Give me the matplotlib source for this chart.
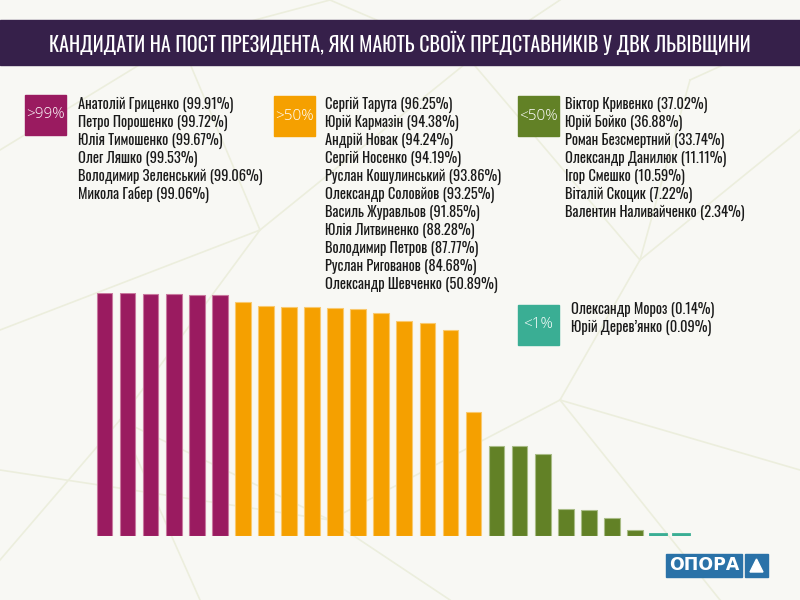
import matplotlib.pyplot as plt
from matplotlib import font_manager as fm
from matplotlib.patches import Rectangle, Polygon
from matplotlib.lines import Line2D

# data
names_99 = ['Анатолій Гриценко', 'Петро Порошенко', 'Юлія Тимошенко', 'Олег Ляшко',
            'Володимир Зеленський', 'Микола Габер']
vals_99 = [99.91, 99.72, 99.67, 99.53, 99.06, 99.06]

names_50 = ['Сергій Тарута', 'Юрій Кармазін', 'Андрій Новак', 'Сергій Носенко',
            'Руслан Кошулинський', 'Олександр Соловйов', 'Василь Журавльов',
            'Юлія Литвиненко', 'Володимир Петров', 'Руслан Ригованов', 'Олександр Шевченко']
vals_50 = [96.25, 94.38, 94.24, 94.19, 93.86, 93.25, 91.85, 88.28, 87.77, 84.68, 50.89]

names_lt50 = ['Віктор Кривенко', 'Юрій Бойко', 'Роман Безсмертний', 'Олександр Данилюк',
              'Ігор Смешко', 'Віталій Скоцик', 'Валентин Наливайченко']
vals_lt50 = [37.02, 36.88, 33.74, 11.11, 10.59, 7.22, 2.34]

names_lt1 = ['Олександр Мороз', 'Юрій Дерев’янко']
vals_lt1 = [0.14, 0.09]

group_labels = ['>99%', '>50%', '<50%', '<1%']
title = 'КАНДИДАТИ НА ПОСТ ПРЕЗИДЕНТА, ЯКІ МАЮТЬ СВОЇХ ПРЕДСТАВНИКІВ У ДВК ЛЬВІВЩИНИ'

purple = '#9A1B60'
orange = '#F5A000'
green = '#628126'
teal = '#3AAE94'
band = '#36204A'
bg = '#F8F8F4'


def pick(cands):
    for c in cands:
        try:
            fm.findfont(fm.FontProperties(family=c), fallback_to_default=False)
            return [c, 'DejaVu Sans']
        except Exception:
            pass
    return ['DejaVu Sans']


narrow = pick(['Oswald', 'Roboto Condensed', 'Barlow Condensed', 'Asap Condensed'])
light = pick(['Open Sans', 'Noto Sans', 'Lato'])

W, H = 800, 600
fig = plt.figure(figsize=(8, 6), dpi=100, facecolor=bg)


def fx(x):
    return x / W


def fy(y):
    return 1 - y / H


# faint background triangles
bg_lines = [
    [(0, 150), (180, 40), (330, 0)], [(180, 40), (260, 230), (0, 330)],
    [(260, 230), (470, 60), (560, 0)], [(470, 60), (640, 260), (800, 130)],
    [(640, 260), (560, 400), (800, 470)], [(260, 230), (120, 420), (0, 560)],
    [(120, 420), (330, 520), (560, 400)], [(330, 520), (450, 600)],
    [(690, 80), (800, 30)], [(690, 80), (640, 260)], [(560, 400), (720, 600)],
    [(120, 420), (200, 600)], [(330, 520), (0, 470)], [(470, 60), (330, 0)],
]
for pts in bg_lines:
    fig.add_artist(Line2D([fx(p[0]) for p in pts], [fy(p[1]) for p in pts],
                          color='#ECEEDD', lw=1.2, zorder=0))

# title band
fig.add_artist(Rectangle((0, fy(65)), 1, 45 / H, color=band, zorder=1))
fig.text(0.5, fy(43), title, color='white', fontsize=14.4, fontweight='light',
         family=narrow, ha='center', va='center', zorder=2)

# legend blocks
groups = [
    (names_99, vals_99, purple, group_labels[0], (25, 95), 78, 105),
    (names_50, vals_50, orange, group_labels[1], (274, 96), 325, 105),
    (names_lt50, vals_lt50, green, group_labels[2], (518, 96), 565, 105),
    (names_lt1, vals_lt1, teal, group_labels[3], (518, 305), 571, 310),
]
for names, vals, col, lab, (bx, by), tx, ty in groups:
    fig.add_artist(Rectangle((fx(bx), fy(by + 40)), 41 / W, 40 / H, color=col, zorder=1))
    fig.text(fx(bx + 20.5), fy(by + 20), lab, color='white', fontsize=11,
             ha='center', va='center', family=light, fontweight='light')
    for i, (n, v) in enumerate(zip(names, vals)):
        fig.text(fx(tx), fy(ty + 18 * i), f'{n} ({v:.2f}%)', fontsize=10.4,
                 family=narrow, fontweight='normal', color='#1A1A1A', va='center', ha='left')

# bars
main_vals = vals_99 + vals_50 + vals_lt50
colors = [purple] * len(vals_99) + [orange] * len(vals_50) + [green] * len(vals_lt50)
edges = ['#C9799F'] * len(vals_99) + ['#F9C96E'] * len(vals_50) + ['#A9BC86'] * len(vals_lt50)
n_all = len(main_vals) + len(vals_lt1)

left, right = 93, 692.6
ax = fig.add_axes([fx(left), fy(536), (right - left) / W, 243.2 / H])
ax.set_facecolor('none')
ax.bar(range(len(main_vals)), main_vals, width=0.68, color=colors,
       edgecolor=edges, linewidth=0.8)
# tiny values drawn as short dashes
ax.bar(range(len(main_vals), n_all), vals_lt1, width=0.66, bottom=0.6,
       color=teal, edgecolor=teal, linewidth=2.0)
ax.set_xlim(-0.5, n_all - 0.5)
ax.set_ylim(0, 100)
ax.axis('off')

# logo
fig.add_artist(Rectangle((fx(666), fy(577)), 76 / W, 23 / H, color='#2A72A8', zorder=3))
fig.add_artist(Rectangle((fx(745), fy(577)), 23 / W, 23 / H, color='#2A72A8', zorder=3))
fig.text(fx(704), fy(565.5), 'ОПОРА', color='white', fontsize=12.5, fontweight='bold',
         ha='center', va='center', family=['DejaVu Sans'], zorder=4)
fig.add_artist(Polygon([(fx(750), fy(572)), (fx(763), fy(572)), (fx(756.5), fy(559))],
                       closed=True, color='white', zorder=4))

fig.savefig('out.png', dpi=100, facecolor=bg)
